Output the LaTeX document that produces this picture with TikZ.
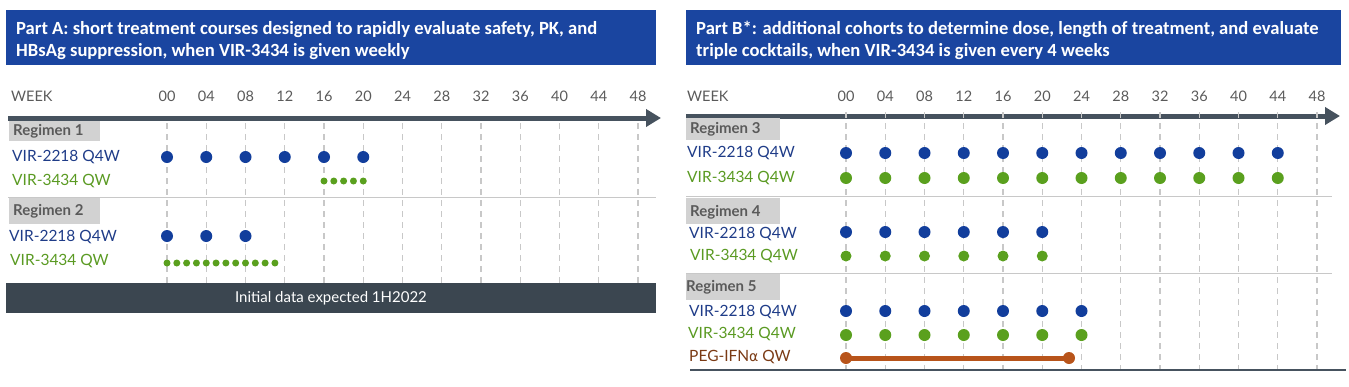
\documentclass[tikz,border=0pt]{standalone}
\usepackage{fontspec}
\setmainfont{Lato}
\newfontfamily\titlefont{Carlito}
\usetikzlibrary{arrows.meta}
\definecolor{titleblue}{HTML}{1A45A0}
\definecolor{axisgray}{HTML}{46525E}
\definecolor{bargray}{HTML}{3B4650}
\definecolor{regbox}{HTML}{D2D2D2}
\definecolor{regtext}{HTML}{5A5A5A}
\definecolor{txtblue}{HTML}{1F3C88}
\definecolor{dotblue}{HTML}{123E9C}
\definecolor{txtgreen}{HTML}{5A9A22}
\definecolor{dotgreen}{HTML}{5AA01E}
\definecolor{txtbrown}{HTML}{7A3A14}
\definecolor{pegorange}{HTML}{B8541A}
\definecolor{sepgray}{HTML}{C8C8C8}
\definecolor{dashgray}{HTML}{C8C8C8}
\tikzset{
  titlebox/.style={fill=titleblue, draw=none},
  titletext/.style={anchor=north west, align=left, text=white, inner sep=0pt, font=\titlefont\fontsize{18.6}{22}\selectfont\bfseries},
  weektext/.style={anchor=center, text=regtext, inner sep=0pt, font=\fontsize{14.5}{16}\selectfont},
  weekhead/.style={anchor=west, text=regtext, inner sep=0pt, font=\fontsize{14.5}{16}\selectfont},
  axisarrow/.style={axisgray, line width=5pt, -{Triangle[length=15pt,width=17pt]}},
  vdash/.style={dashgray, line width=1.1pt, dash pattern=on 6pt off 5pt},
  sepline/.style={sepgray, line width=1pt},
  regfill/.style={fill=regbox, draw=none},
  regtxt/.style={anchor=west, text=regtext, inner sep=0pt, font=\fontsize{15}{17}\selectfont\bfseries},
  bluetxt/.style={anchor=west, text=txtblue, inner sep=0pt, font=\fontsize{15.5}{17}\selectfont},
  greentxt/.style={anchor=west, text=txtgreen, inner sep=0pt, font=\fontsize{15.5}{17}\selectfont},
  browntxt/.style={anchor=west, text=txtbrown, inner sep=0pt, font=\fontsize{15.5}{17}\selectfont},
  bdot/.style={circle, fill=dotblue, draw=none, inner sep=0pt, minimum size=12pt},
  gdot/.style={circle, fill=dotgreen, draw=none, inner sep=0pt, minimum size=12pt},
  gdotm/.style={circle, fill=dotgreen, draw=none, inner sep=0pt, minimum size=11pt},
  gsmall/.style={circle, fill=dotgreen, draw=none, inner sep=0pt, minimum size=7pt},
  pegend/.style={circle, fill=pegorange, draw=none, inner sep=0pt, minimum size=12pt},
  pegline/.style={pegorange, line width=5pt},
  databar/.style={fill=bargray, draw=none},
  bartext/.style={anchor=center, text=white, inner sep=0pt, font=\fontsize{15}{17}\selectfont},
  bottomline/.style={axisgray, line width=2.5pt}
}
\begin{document}
\begin{tikzpicture}[x=1pt,y=-1pt]
\useasboundingbox (0,0) rectangle (1349,386);
% ================= Part A =================
\fill[titlebox] (6,10) rectangle (656,65);
\node[titletext] (titleA) at (16,21) {Part A: short treatment courses designed to rapidly evaluate safety, PK, and\\HBsAg suppression, when VIR-3434 is given weekly};
\node[weekhead] (weekA) at (11,96) {WEEK};
\foreach \w [count=\i from 0] in {00,04,08,12,16,20,24,28,32,36,40,44,48}{
  \node[weektext] (wA\i) at ({167+39.25*\i},96) {\w};
  \draw[vdash] ({167+39.25*\i},123) -- ({167+39.25*\i},283);
}
\coordinate (axA0) at (8,118);
\coordinate (axA1) at (661,118);
\draw[axisarrow] (axA0) -- (axA1);
% Regimen 1
\fill[regfill] (9,121) rectangle (100,141);
\node[regtxt] (reg1) at (13,131) {Regimen 1};
\node[bluetxt] (r1bl) at (12,157) {VIR-2218 Q4W};
\node[greentxt] (r1gl) at (12,181) {VIR-3434 QW};
\foreach \i in {0,...,5}{ \node[bdot] (r1b\i) at ({167+39.25*\i},157) {}; }
\foreach \i in {16,...,20}{ \node[gsmall] (r1g\i) at ({167+9.8125*\i},181) {}; }
\draw[sepline] (8,197) -- (656,197);
% Regimen 2
\fill[regfill] (9,198) rectangle (100,224);
\node[regtxt] (reg2) at (13,211) {Regimen 2};
\node[bluetxt] (r2bl) at (9,237) {VIR-2218 Q4W};
\node[greentxt] (r2gl) at (10,261) {VIR-3434 QW};
\foreach \i in {0,...,2}{ \node[bdot] (r2b\i) at ({167+39.25*\i},236) {}; }
\foreach \i in {0,...,11}{ \node[gsmall] (r2g\i) at ({167+9.8125*\i},263) {}; }
% data bar
\fill[databar] (6,283) rectangle (656,313);
\node[bartext] (barA) at (331,298) {Initial data expected 1H2022};
% ================= Part B =================
\fill[titlebox] (686,10) rectangle (1341,65);
\node[titletext] (titleB) at (696,21) {Part B*: additional cohorts to determine dose, length of treatment, and evaluate\\triple cocktails, when VIR-3434 is given every 4 weeks};
\node[weekhead] (weekB) at (687,96) {WEEK};
\coordinate (axB0) at (686,116);
\coordinate (axB1) at (1340,116);
\draw[axisarrow] (axB0) -- (axB1);
\foreach \w [count=\i from 0] in {00,04,08,12,16,20,24,28,32,36,40,44,48}{
  \node[weektext] (wB\i) at ({846+39.25*\i},96) {\w};
  \draw[vdash] ({846+39.25*\i},112) -- ({846+39.25*\i},370);
}
% Regimen 3
\fill[regfill] (686,118) rectangle (780,140);
\node[regtxt] (reg3) at (690,129) {Regimen 3};
\node[bluetxt] (r3bl) at (687,153) {VIR-2218 Q4W};
\node[greentxt] (r3gl) at (687,178) {VIR-3434 Q4W};
\foreach \i in {0,...,11}{ \node[bdot] (r3b\i) at ({846+39.25*\i},153) {}; }
\foreach \i in {0,...,11}{ \node[gdot] (r3g\i) at ({846+39.25*\i},178) {}; }
\draw[sepline] (686,196) -- (1332,196);
% Regimen 4
\fill[regfill] (686,198) rectangle (780,224);
\node[regtxt] (reg4) at (690,212) {Regimen 4};
\node[bluetxt] (r4bl) at (689,234) {VIR-2218 Q4W};
\node[greentxt] (r4gl) at (690,256) {VIR-3434 Q4W};
\foreach \i in {0,...,5}{ \node[bdot] (r4b\i) at ({846+39.25*\i},232) {}; }
\foreach \i in {0,...,5}{ \node[gdotm] (r4g\i) at ({846+39.25*\i},256) {}; }
\draw[sepline] (686,273) -- (1332,273);
% Regimen 5
\fill[regfill] (686,274) rectangle (780,300);
\node[regtxt] (reg5) at (686,287) {Regimen 5};
\node[bluetxt] (r5bl) at (689,312) {VIR-2218 Q4W};
\node[greentxt] (r5gl) at (688,334) {VIR-3434 Q4W};
\node[browntxt] (r5pl) at (689,357) {PEG-IFN{\fontspec{DejaVu Sans}\fontsize{14}{16}\selectfont α} QW};
\foreach \i in {0,...,6}{ \node[bdot] (r5b\i) at ({846+39.25*\i},311) {}; }
\foreach \i in {0,...,6}{ \node[gdot] (r5g\i) at ({846+39.25*\i},335) {}; }
\node[pegend] (peg0) at (846,358) {};
\node[pegend] (peg1) at (1069,358) {};
\draw[pegline] (peg0.center) -- (peg1.center);
\coordinate (botB0) at (690,370);
\coordinate (botB1) at (1346,370);
\draw[bottomline] (botB0) -- (botB1);
\end{tikzpicture}
\end{document}
